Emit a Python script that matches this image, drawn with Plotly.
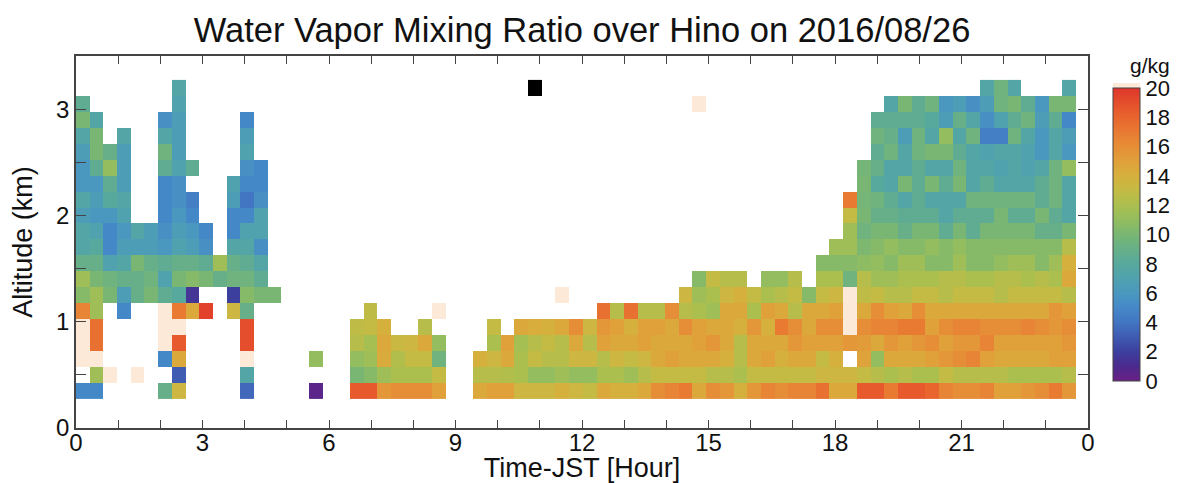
import numpy as np
import plotly.graph_objects as go

N = None
# ---- data grid description ----
time_step_h = 0.325          # profile spacing (hours)
alt_first_km = 0.35          # lowest range-gate centre (km)
alt_step_km = 0.15           # range-gate spacing (km)
n_alt = 20

# water vapour mixing ratio (g/kg) per profile, listed from lowest gate upward
# values > 20 : over-range (drawn pale), values < 0 : flagged (drawn black)
profiles = [
    [5, N, 25, 25, 25, 16.5, 10.5, 11.5, 9, 7.5, 7.5, 6.5, 7.5, 6, 6, 6.5, 7.5, 10, 8.5],
    [5, 11.5, 25, 17.5, 17.5, 11.5, 11.5, 10, 9, 8, 7, 6, 6.5, 6, 8.5, 10, 10, 7.5],
    [N, 25, N, N, N, N, 10, 9.5, 7, 5, 5, 6, 8, 8.5, 11, 9],
    [N, N, N, N, N, 5, 6.5, 9, 7.5, 6.5, 6, 7, 7.5, 6.5, 6.5, 6.5, 7.5],
    [N, 25, N, N, N, N, 9, 9, 10, 6.5, 7.5],
    [N, N, N, N, N, N, 10, 9.5, 9, 6.5, 6.5],
    [9, N, 5, 25, 25, 25, 8.5, 7, 8.5, 6, 5.5, 5, 5, 5, 8.5, 9.5, 7.5, 5.5],
    [13.5, 3, 14.5, 18.5, 25, 17, 8, 10, 9, 7, 6.5, 6, 5.5, 5.5, 7, 6.5, 6.5, 6.5, 7, 7.5],
    [N, N, N, N, N, 14.5, 1.5, 10.5, 9, 6.5, 6, 5, 4.5, N, 8.5],
    [N, N, N, N, N, 19.5, N, 10, 8.5, 5.5, 5],
    [N, N, N, N, N, N, N, 9, 11.5],
    [N, N, N, N, N, 13.5, 2, 9.5, 9, 7.5, 5, 5, 6.5, 7],
    [3.5, 7.5, 25, 19, 19, 9, 10.5, 9.5, 8.5, 7.5, 7, 5, 4, 5, 5.5, 7, 6.5, 5],
    [N, N, N, N, N, N, 10, 8.5, 7.5, 5.5, 7, 7, 5.5, 5, 5],
    [N, N, N, N, N, N, 10],
    [],
    [],
    [0.5, N, 11],
    [],
    [],
    [18.5, 10, 11, 12.5, 12.8],
    [18.5, 10.5, 11.5, 11.8, 13, 12.8],
    [15.5, 11.5, 14.3, 14.5, 14],
    [16, 12, 12.3, 13.3],
    [16, 12, 13, 13.5],
    [16, 12, 13, 14.5, 12.5],
    [15, 13, 9.5, 11, N, 25],
    [],
    [],
    [14.5, 12.5, 14],
    [15, 12.5, 13.5, 12, 13],
    [15, 12.3, 14.5, 15],
    [13.5, 12, 12, 11.8, 14.5],
    [13.5, 11, 13, 12.5, 14.2, N, N, N, N, N, N, N, N, N, N, N, N, N, N, -5],
    [13.5, 11, 12.5, 13, 14],
    [14, 11.5, 12.5, 12.5, 14.5, N, 25],
    [13.5, 11, 13.5, 14.5, 16],
    [13, 11, 13.5, 12.5, 13.5],
    [14.5, 12, 12.5, 15, 15.5, 17.5],
    [14, 12, 13.5, 14.5, 15, 12.5],
    [14, 11.5, 13, 14.5, 14, 17.5],
    [14.5, 12.5, 13.5, 15, 15, 12.5],
    [16, 13, 14.5, 14.5, 15, 12.5],
    [16.5, 13, 15, 14.5, 14.5, 16],
    [17, 13, 14.5, 14.5, 16, 12.5, 13.5],
    [14.5, 13, 14.5, 15, 15, 12, 11.5, 10.5, N, N, N, N, N, N, N, N, N, N, 25],
    [16, 12.5, 14.5, 15.5, 14.5, 11.5, 12, 13],
    [15.5, 12.5, 14, 14.5, 14.5, 14.5, 13.5, 12.5],
    [14, 12, 12.5, 12.5, 14, 14.5, 14, 12.5],
    [15.5, 13, 14.5, 14.5, 15.5, 12, 13],
    [16.5, 13, 15, 14.5, 14, 15, 12, 11],
    [16, 13, 14, 14.5, 17, 14.5, 12.5, 11],
    [16.5, 13, 14.5, 15.5, 16, 12.5, 13, 12.5],
    [16.5, 13, 14.5, 15, 14.5, 14.5, 10.5],
    [17.5, 13.5, 13, 15, 16, 14.5, 13, 12, 10.5],
    [14.5, 13.5, 14, 15, 16, 15, 13.5, 12, 10.5, 11.5],
    [14.5, 13.5, N, 15.5, 25, 25, 25, 9.5, 10.5, 11.5, 11.5, 13, 17],
    [18.5, 13, 14.8, 15.3, 16, 14.5, 12.8, 12.5, 10.8, 10.2, 9.5, 10, 9.8, 10, 9.8],
    [18.5, 12.5, 11, 14.5, 16.5, 16, 13, 11.5, 11, 10.5, 10, 9, 9.5, 8, 9, 8.5, 9.5, 8.5],
    [17, 12, 14.5, 15.5, 16.5, 15, 12.5, 11.5, 10.5, 11, 10, 9, 8.5, 7.5, 7.5, 9.5, 9, 8.5, 7.5],
    [18.5, 12.5, 14.5, 15, 17, 14.5, 12.5, 12, 11.5, 10.5, 9, 8.5, 7.5, 10, 7.5, 7.5, 6.5, 8.5, 10],
    [18.5, 12, 14.5, 15.5, 17, 16, 13, 12, 11.5, 10.5, 10, 8.5, 8.5, 8.5, 8.5, 9.5, 9.5, 8.5, 8.5],
    [18, 12, 15, 16, 15, 14.5, 13, 12, 10.5, 11, 10, 8.5, 7.5, 10, 7.5, 10, 7.5, 8, 9.5],
    [16.5, 13, 15.5, 15, 16, 14.5, 12.5, 12.5, 10.5, 10.5, 8.5, 7.5, 7.5, 8.5, 7.5, 10, 11, 6.5, 6],
    [16, 12.5, 16, 15.5, 16.5, 14.5, 13, 12.5, 11.5, 11, 10, 8.5, 7.5, 10, 9.5, 8.5, 7.5, 9, 6.5],
    [16, 12.5, 16.5, 15.5, 16.5, 14.5, 13, 12, 10.5, 10.5, 8.5, 8.5, 9.5, 7.5, 7.5, 7.5, 9.5, 7.5, 5.5],
    [16.5, 12.5, 15, 16.5, 16, 14.5, 13, 12, 10.5, 10.5, 10, 8.5, 9.5, 8.5, 7.5, 7, 4.5, 5.5, 6.5, 7.5],
    [15, 12.5, 14.5, 15, 16, 14.5, 12.5, 12.5, 11, 10.5, 10, 10, 9.5, 7.5, 7, 7.5, 4.5, 7, 9.5, 9.5],
    [15, 12, 14.5, 15, 16, 14.5, 13, 12.5, 11.5, 10.5, 10, 8.5, 9.5, 7.5, 7.5, 7.5, 9.5, 8.5, 10, 7.5],
    [15.5, 12, 14.5, 15, 16.5, 14.5, 13, 12, 11.5, 10.5, 10, 8.5, 9.5, 7.5, 7, 7, 7.5, 9.5, 8.5],
    [16, 12, 14.5, 15, 16, 14.5, 13, 12.5, 10.5, 10.5, 9, 10, 8.5, 8.5, 7.5, 6, 6, 6.5, 6],
    [17, 12, 15, 15, 15.5, 15.5, 13, 12, 11.5, 10.5, 9, 8.5, 9.5, 9.5, 9.5, 7.5, 7.5, 8.5, 10],
    [15.5, 12.5, 15, 15.5, 16, 15, 12.5, 14.5, 14, 12.5, 10, 7.5, 7.5, 7.5, 11, 6, 6.5, 5, 10, 7.5],
]

x_tick_vals = list(range(0, 25))
x_tick_text = ["0", "", "", "3", "", "", "6", "", "", "9", "", "", "12", "", "",
               "15", "", "", "18", "", "", "21", "", "", "0"]
y_tick_vals = [0, 0.5, 1, 1.5, 2, 2.5, 3, 3.5]
y_tick_text = ["0", "", "1", "", "2", "", "3", ""]
cbar_ticks = [0, 2, 4, 6, 8, 10, 12, 14, 16, 18, 20]

# ---- build grid ----
time_h = [round(time_step_h * (k + 0.5), 4) for k in range(len(profiles))]
alt_km = [round(alt_first_km + alt_step_km * r, 3) for r in range(n_alt)]
z = np.full((n_alt, len(profiles)), np.nan)
for k, p in enumerate(profiles):
    for r, v in enumerate(p):
        if v is not None:
            z[r, k] = v


def to_list(a):
    return [[None if np.isnan(v) else float(v) for v in row] for row in a]


z_main = to_list(np.where((z >= 0) & (z <= 20), z, np.nan))
z_high = to_list(np.where(z > 20, z, np.nan))
z_low = to_list(np.where(z < 0, z, np.nan))

cscale = [
    [0.00, '#6b1f86'], [0.05, '#4b2a8e'], [0.10, '#3c3f9e'], [0.15, '#3f5bb2'],
    [0.20, '#4275c2'], [0.25, '#4588c8'], [0.30, '#4a98bf'], [0.35, '#4fa2ae'],
    [0.40, '#58a99d'], [0.45, '#66af88'], [0.50, '#79b673'], [0.55, '#93bd5e'],
    [0.60, '#abbf4f'], [0.65, '#c3bb44'], [0.70, '#d6b03d'], [0.75, '#e0a03a'],
    [0.80, '#e68e37'], [0.85, '#e87a32'], [0.90, '#e8652e'], [0.95, '#e44e2c'],
    [1.00, '#df352c'],
]
PEACH = '#fde9d8'
FONT = "Liberation Sans, Arial, Helvetica, sans-serif"

# page offset of the figure inside the browser (body margin)
OFF = 8
W, H = 1178 - OFF, 483 - OFF
# plot box in reference page pixels
PL, PR, PT, PB = 76, 1088, 56, 428
PW, PH = PR - PL, PB - PT


def px(xp):
    return (xp - PL) / PW


def py(yp):
    return (PB - yp) / PH


fig = go.Figure()
fig.add_trace(go.Heatmap(
    x=time_h, y=alt_km, z=z_main, zmin=0, zmax=20, colorscale=cscale,
    hoverongaps=False,
    colorbar=dict(
        x=px(1113), xanchor="left", y=py(234.5), yanchor="middle",
        lenmode="pixels", len=293, thicknessmode="pixels", thickness=27,
        xpad=0, ypad=0, outlinewidth=1, outlinecolor="#444",
        tickvals=cbar_ticks, ticks="",
        tickfont=dict(family=FONT, size=22, color="#111"),
    ),
))
fig.add_trace(go.Heatmap(
    x=time_h, y=alt_km, z=z_high, colorscale=[[0, PEACH], [1, PEACH]],
    showscale=False, hoverongaps=False,
))
fig.add_trace(go.Heatmap(
    x=time_h, y=alt_km, z=z_low, colorscale=[[0, '#000000'], [1, '#000000']],
    showscale=False, hoverongaps=False,
))

axis_common = dict(
    showline=True, linecolor="#444", linewidth=1.5, mirror="ticks",
    ticks="inside", tickcolor="#444", tickwidth=1, showgrid=False, zeroline=False,
    tickfont=dict(family=FONT, size=24, color="#111"),
)
fig.update_xaxes(
    range=[0, 24], tickmode="array", tickvals=x_tick_vals, ticktext=x_tick_text,
    ticklen=8, ticklabelstandoff=-8,
    title=dict(text="Time-JST [Hour]", font=dict(family=FONT, size=27, color="#111"), standoff=0),
    **axis_common,
)
fig.update_yaxes(
    range=[0, 3.5], tickmode="array", tickvals=y_tick_vals, ticktext=y_tick_text,
    ticklen=10,
    title=dict(text="Altitude (km)", font=dict(family=FONT, size=27, color="#111"), standoff=16),
    **axis_common,
)

fig.update_layout(
    width=W, height=H,
    margin=dict(l=PL - OFF, r=W - (PR - OFF), t=PT - OFF, b=H - (PB - OFF), autoexpand=False),
    paper_bgcolor="white", plot_bgcolor="white",
    title=dict(text="Water Vapor Mixing Ratio over Hino on 2016/08/26",
               x=0.5, xref="paper", y=1 - (30 - OFF) / H, yref="container", yanchor="middle",
               font=dict(family=FONT, size=34.5, color="#111")),
    annotations=[dict(text="g/kg", xref="paper", yref="paper",
                      x=px(1150), y=py(66),
                      xanchor="center", yanchor="middle", showarrow=False,
                      font=dict(family=FONT, size=21, color="#111"))],
    shapes=[dict(type="rect", xref="paper", yref="paper",
                 x0=px(1113), x1=px(1140), y0=py(88), y1=py(83),
                 fillcolor=PEACH, line=dict(width=0))],
)

fig.write_html("out.html")
